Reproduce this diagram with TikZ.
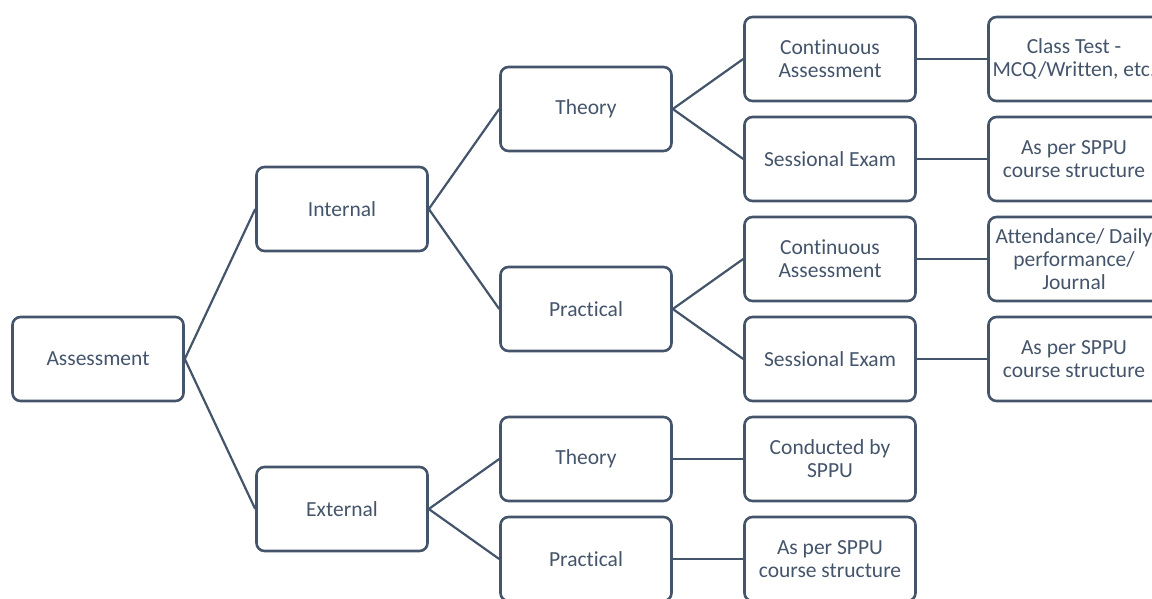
\documentclass[tikz,border=0pt]{standalone}
\usepackage{fontspec}
\setmainfont{Carlito}[Ligatures={NoCommon}]
\usepackage{tikz}
\definecolor{slate}{HTML}{44546A}

\begin{document}
\begin{tikzpicture}[x=1pt, y=-1pt,
        box/.style={draw=slate, line width=2.6pt, rounded corners=8pt,
            minimum width=171pt, minimum height=84pt, align=center,
            text=slate, font=\fontsize{21.5}{23}\selectfont},
        link/.style={draw=slate, line width=2.2pt}]
        \useasboundingbox (0, 0) rectangle (1152, 599);
        % boxes
        \node[box] (assess) at (98, 359) {Assessment};
        \node[box] (int) at (342, 209) {Internal};
        \node[box] (ext) at (342, 509) {External};
        \node[box] (intth) at (586, 109) {Theory};
        \node[box] (intpr) at (586, 309) {Practical};
        \node[box] (extth) at (586, 459) {Theory};
        \node[box] (extpr) at (586, 559) {Practical};
        \node[box] (thca) at (830, 59) {Continuous\\Assessment};
        \node[box] (these) at (830, 159) {Sessional Exam};
        \node[box] (prca) at (830, 259) {Continuous\\Assessment};
        \node[box] (prse) at (830, 359) {Sessional Exam};
        \node[box] (extthby) at (830, 459) {Conducted by\\SPPU};
        \node[box] (extprsp) at (830, 559) {As per SPPU\\course structure};
        \node[box] (classtest) at (1074, 59) {Class Test -\\MCQ/Written, etc.};
        \node[box] (thsesp) at (1074, 159) {As per SPPU\\course structure};
        \node[box] (attend) at (1074, 259) {Attendance/ Daily\\performance/\\Journal};
        \node[box] (prsesp) at (1074, 359) {As per SPPU\\course structure};
        % links
        \draw[link] (assess.east) -- (int.west);
        \draw[link] (assess.east) -- (ext.west);
        \draw[link] (int.east) -- (intth.west);
        \draw[link] (int.east) -- (intpr.west);
        \draw[link] (ext.east) -- (extth.west);
        \draw[link] (ext.east) -- (extpr.west);
        \draw[link] (intth.east) -- (thca.west);
        \draw[link] (intth.east) -- (these.west);
        \draw[link] (intpr.east) -- (prca.west);
        \draw[link] (intpr.east) -- (prse.west);
        \draw[link] (extth.east) -- (extthby.west);
        \draw[link] (extpr.east) -- (extprsp.west);
        \draw[link] (thca.east) -- (classtest.west);
        \draw[link] (these.east) -- (thsesp.west);
        \draw[link] (prca.east) -- (attend.west);
        \draw[link] (prse.east) -- (prsesp.west);
    \end{tikzpicture}
\end{document}
